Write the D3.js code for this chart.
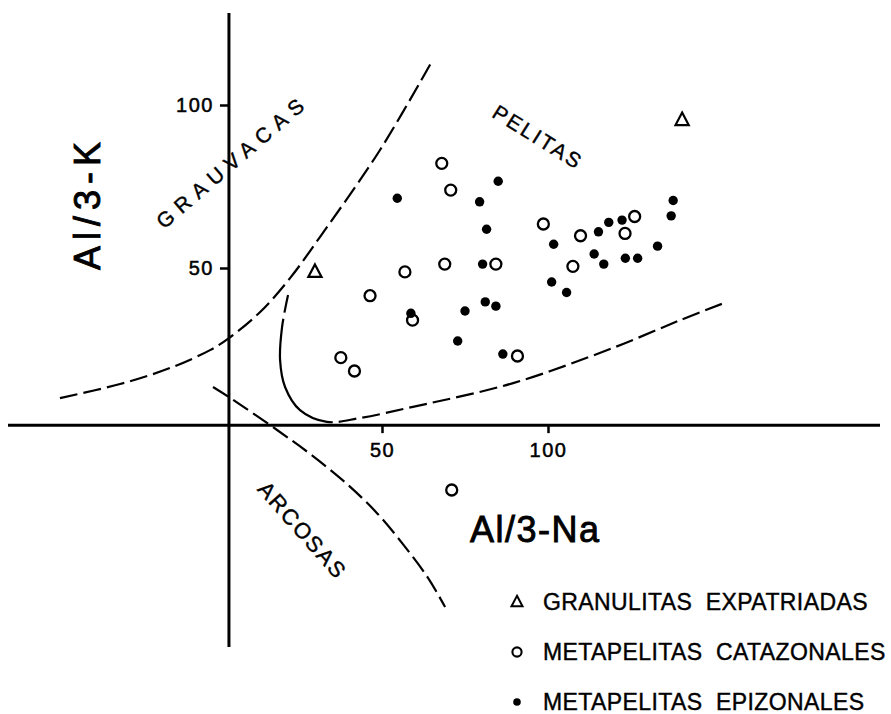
<!DOCTYPE html>
<html><head><meta charset="utf-8">
<script src="https://cdn.jsdelivr.net/npm/d3@7"></script>
<style>
html,body{margin:0;padding:0;background:#fff;}
svg{display:block;}
text{font-family:"Liberation Sans",Arial,sans-serif;fill:#000;}
</style></head>
<body>
<svg id="chart" width="891" height="714"></svg>
<script>
// ---- data (Al/3-Na , Al/3-K) ----
const granulitas = [[29.8,48.8],[140.4,95.4]];
const catazonales = [[68.0,82.1],[70.7,73.9],[98.6,63.5],[109.8,59.9],[126.1,65.8],[123.2,60.6],
  [107.5,50.5],[84.3,51.2],[68.9,51.2],[56.9,48.8],[46.4,41.5],[37.6,22.5],[41.7,18.4],
  [90.8,23.0],[71.0,-18.1],[59.2,34.0]];
const epizonales = [[54.6,71.4],[85.0,76.6],[79.4,70.3],[81.5,61.9],[80.3,51.2],[58.7,36.1],
  [75.0,36.8],[81.1,39.6],[84.3,38.3],[72.8,27.6],[86.4,23.6],[101.7,57.3],[101.1,45.7],
  [105.6,42.5],[113.9,54.3],[116.8,51.2],[115.2,61.1],[118.3,64.0],[122.3,64.7],[123.3,53.0],
  [127.0,53.0],[133.0,56.7],[137.7,70.7],[137.1,66.0]];
// field boundaries
const grauvacasLine = [[-47,10.1],[-28.9,14.4],[-13.9,19.3],[-1.8,24.8],[3.9,28.5],[13.3,36.5],
  [22.3,46.9],[31.3,59.5],[49.4,86.2],[65.1,113.5]];
const arcosasLine = [[-0.9,13.5],[3.9,10.4],[18.4,0.3],[29.2,-7.7],[39.5,-16.3],[48.5,-25.2],
  [56.3,-34.7],[63.9,-45.1],[69.0,-54.0]];
const pelitasLine = [[21.7,41.7],[19.9,31.9],[19.3,21.8],[20.8,13.5],[25.3,6.4],[33.4,2.8],
  [43.4,4.0],[59.3,7.4],[89.5,14.7],[119.6,25.5],[139.8,34.0],[153.9,39.6]];
const xTicks = [50,100];
const yTicks = [50,100];
const xTitle = "Al/3-Na";
const yTitle = "Al/3-K";
const fields = [
  {name:"GRAUVACAS", at:[5.0,82.8], angle:-40.6, size:21, spacing:7},
  {name:"PELITAS", at:[97,90.2], angle:32, size:21, spacing:2.5},
  {name:"ARCOSAS", at:[26.0,-30.5], angle:48.5, size:22, spacing:2}
];
const legendItems = [
  {label:"GRANULITAS  EXPATRIADAS", type:"triangle"},
  {label:"METAPELITAS  CATAZONALES", type:"circle"},
  {label:"METAPELITAS  EPIZONALES", type:"dot"}
];

// ---- layout ----
const svg = d3.select("#chart");
const x = d3.scaleLinear().domain([0,100]).range([216,548]);
const y = d3.scaleLinear().domain([0,100]).range([431,105]);
const crossX = 3.9, crossY = 1.8;   // where the drawn axes cross (data units)
const ax = x(crossX), ay = y(crossY);

// axes lines
svg.append("line").attr("x1",ax).attr("x2",ax).attr("y1",13).attr("y2",647)
  .attr("stroke","#000").attr("stroke-width",3);
svg.append("line").attr("x1",8).attr("x2",880).attr("y1",ay).attr("y2",ay)
  .attr("stroke","#000").attr("stroke-width",3);

const yAxis = svg.append("g").attr("transform",`translate(${ax},0)`)
  .call(d3.axisLeft(y).tickValues(yTicks).tickSize(9).tickPadding(6));
const xAxis = svg.append("g").attr("transform",`translate(0,${ay})`)
  .call(d3.axisBottom(x).tickValues(xTicks).tickSize(8).tickPadding(10));
[yAxis,xAxis].forEach(g=>{
  g.select(".domain").remove();
  g.selectAll("line").attr("stroke","#000").attr("stroke-width",2.5);
  g.selectAll("text").attr("font-size",20).attr("letter-spacing",1.5)
   .attr("font-family","'Liberation Sans',Arial,sans-serif").attr("fill","#000")
   .attr("stroke","#000").attr("stroke-width",0.5);
});

// boundary curves
const line = d3.line().x(d=>x(d[0])).y(d=>y(d[1])).curve(d3.curveCatmullRom.alpha(0.5));
const DASH = 18, GAP = 6;
function plainDash(total){ return `${DASH} ${GAP}`; }
function dashWithSolid(total, s0, s1){
  const arr=[]; let pos=0;
  while(pos+DASH+GAP < s0){ arr.push(DASH,GAP); pos+=DASH+GAP; }
  arr.push(Math.max(1,s1-pos), GAP); pos = s1+GAP;
  while(pos < total){ arr.push(DASH,GAP); pos+=DASH+GAP; }
  arr.push(DASH,GAP);
  return arr.join(" ");
}
[grauvacasLine, arcosasLine].forEach(c=>{
  svg.append("path").attr("d",line(c)).attr("fill","none").attr("stroke","#000")
    .attr("stroke-width",2.2).attr("stroke-dasharray",plainDash());
});
const pel = svg.append("path").attr("d",line(pelitasLine)).attr("fill","none").attr("stroke","#000")
    .attr("stroke-width",2.2);
{
  const tmp = svg.append("path").attr("d",line(pelitasLine.slice(0,2)));
  const s0 = tmp.node().getTotalLength() + 3;
  tmp.attr("d",line(pelitasLine.slice(0,6)));
  const s1 = tmp.node().getTotalLength() + 6;
  tmp.remove();
  pel.attr("stroke-dasharray", dashWithSolid(pel.node().getTotalLength(), s0, s1));
}

// field labels
fields.forEach(f=>{
  svg.append("text").attr("transform",`translate(${x(f.at[0])},${y(f.at[1])}) rotate(${f.angle})`)
    .attr("text-anchor","middle").attr("dominant-baseline","central")
    .attr("font-size",f.size).attr("letter-spacing",f.spacing)
    .attr("stroke","#000").attr("stroke-width",0.4).text(f.name);
});

// axis titles
svg.append("text").attr("transform",`translate(100,203) rotate(-90)`)
  .attr("text-anchor","middle").attr("font-size",36).attr("letter-spacing",6)
  .attr("stroke","#000").attr("stroke-width",0.9).text(yTitle);
svg.append("text").attr("x",470).attr("y",542)
  .attr("font-size",36).attr("letter-spacing",1.5)
  .attr("stroke","#000").attr("stroke-width",0.9).text(xTitle);

// markers
const triPath = (cx,cy,s)=>`M${cx},${cy-s*0.62}L${cx+s*0.55},${cy+s*0.42}L${cx-s*0.55},${cy+s*0.42}Z`;
svg.append("g").selectAll("path").data(granulitas).join("path")
  .attr("d",d=>triPath(x(d[0]),y(d[1]),12)).attr("fill","none").attr("stroke","#000").attr("stroke-width",2.2);
svg.append("g").selectAll("circle").data(catazonales).join("circle")
  .attr("cx",d=>x(d[0])).attr("cy",d=>y(d[1])).attr("r",5.5)
  .attr("fill","#fff").attr("stroke","#000").attr("stroke-width",2.3);
svg.append("g").selectAll("circle").data(epizonales).join("circle")
  .attr("cx",d=>x(d[0])).attr("cy",d=>y(d[1])).attr("r",4.7).attr("fill","#000");

// legend
const lg = svg.append("g");
legendItems.forEach((it,i)=>{
  const cy = 602 + i*50, cx = 517;
  if(it.type==="triangle") lg.append("path").attr("d",triPath(cx,cy,10)).attr("fill","none").attr("stroke","#000").attr("stroke-width",2);
  if(it.type==="circle") lg.append("circle").attr("cx",cx).attr("cy",cy).attr("r",4.6).attr("fill","none").attr("stroke","#000").attr("stroke-width",2.1);
  if(it.type==="dot") lg.append("circle").attr("cx",cx).attr("cy",cy).attr("r",3.8).attr("fill","#000");
  lg.append("text").attr("x",543).attr("y",cy+8).attr("font-size",23).attr("letter-spacing",0.4)
    .attr("stroke","#000").attr("stroke-width",0.4)
    .attr("xml:space","preserve").style("white-space","pre").text(it.label);
});
</script>
</body></html>
